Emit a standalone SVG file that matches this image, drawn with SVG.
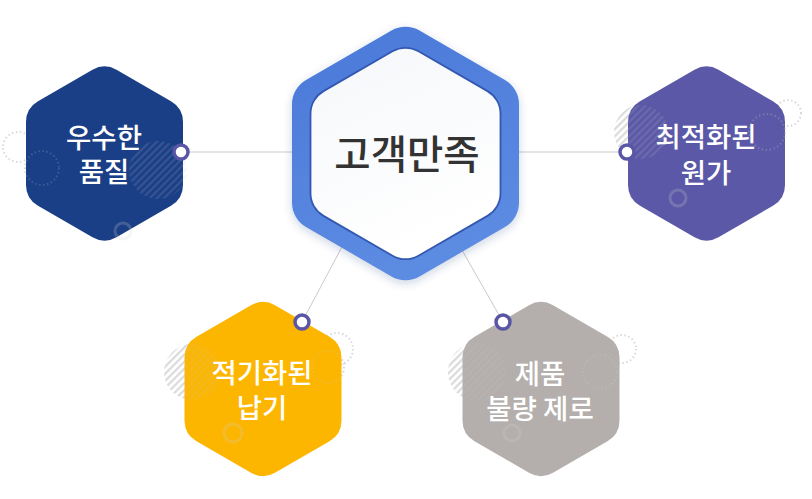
<svg xmlns="http://www.w3.org/2000/svg" xmlns:xlink="http://www.w3.org/1999/xlink" width="812" height="499" viewBox="0 0 812 499">
<style>
.lbl{font-family:"Noto Sans CJK KR","Noto Sans",sans-serif;font-size:27.5px;font-weight:500;fill:#ffffff;text-anchor:middle}
.main{font-family:"Noto Sans CJK KR","Noto Sans",sans-serif;font-size:39.5px;font-weight:500;fill:#333333;text-anchor:middle}
.conn{stroke:#c9c9c9;stroke-width:1;fill:none}
.dot{fill:#ffffff;stroke:#5a56a6;stroke-width:3.5}
.dash{fill:none;stroke:#cfcfcf;stroke-width:2;stroke-dasharray:1.5 2.5;opacity:0.8}
.ring{fill:none;stroke:#d2d2d2;stroke-width:3;opacity:0.22}
.hatchc{fill:url(#hatch);opacity:0.55}
.hatchf{fill:url(#hatch);opacity:0.16}
</style>
<defs>
<path id="hexS" d="M 12 -83.67 L 66.5 -52.23 A 24 24 0 0 1 78.5 -31.44 L 78.5 31.44 A 24 24 0 0 1 66.5 52.23 L 12 83.67 A 24 24 0 0 1 -12 83.67 L -66.5 52.23 A 24 24 0 0 1 -78.5 31.44 L -78.5 -31.44 A 24 24 0 0 1 -66.5 -52.23 L -12 -83.67 A 24 24 0 0 1 12 -83.67 Z"/>
<pattern id="hatch" width="5" height="5" patternUnits="userSpaceOnUse" patternTransform="rotate(45)">
<rect x="0" y="0" width="2.2" height="5" fill="#c4c4c4"/>
</pattern>
<linearGradient id="blueG" x1="0" y1="0" x2="0.3" y2="1">
<stop offset="0" stop-color="#4a78d8"/>
<stop offset="1" stop-color="#5c8be2"/>
</linearGradient>
<linearGradient id="whiteG" x1="0" y1="0" x2="0.4" y2="1">
<stop offset="0" stop-color="#f5f7fa"/>
<stop offset="1" stop-color="#ffffff"/>
</linearGradient>
<filter id="sh" x="-20%" y="-20%" width="140%" height="140%">
<feDropShadow dx="0" dy="3" stdDeviation="4" flood-color="#1e3c80" flood-opacity="0.22"/>
</filter>
</defs>
<rect width="812" height="499" fill="#ffffff"/>

<g id="connectors">
<line class="conn" x1="181" y1="152" x2="300" y2="152"/>
<line class="conn" x1="510" y1="152" x2="627" y2="152"/>
<line class="conn" x1="302" y1="322" x2="343" y2="245"/>
<line class="conn" x1="503" y1="322" x2="462" y2="250"/>
</g>

<g id="deco-back">
<circle class="dash" cx="18" cy="147" r="15"/>
<circle class="dash" cx="42" cy="168" r="17"/>
<circle class="dash" cx="788" cy="113" r="13"/>
<circle class="dash" cx="767" cy="132" r="18"/>
<circle class="dash" cx="337" cy="349" r="16"/>
<circle class="dash" cx="328" cy="367" r="16"/>
<circle class="dash" cx="622" cy="349" r="14"/>
<circle class="dash" cx="600" cy="372" r="17"/>
<circle class="hatchc" cx="641" cy="132" r="27"/>
<circle class="hatchc" cx="192" cy="372" r="28"/>
<circle class="hatchc" cx="477" cy="372" r="29"/>
</g>

<g id="node-center">
<path transform="translate(405.5,153.5)" filter="url(#sh)" fill="url(#blueG)" d="M 14 -122.92 L 99.5 -73.58 A 28 28 0 0 1 113.5 -49.33 L 113.5 49.33 A 28 28 0 0 1 99.5 73.58 L 14 122.92 A 28 28 0 0 1 -14 122.92 L -99.5 73.58 A 28 28 0 0 1 -113.5 49.33 L -113.5 -49.33 A 28 28 0 0 1 -99.5 -73.58 L -14 -122.92 A 28 28 0 0 1 14 -122.92 Z"/>
<path transform="translate(405.5,153.5)" fill="url(#whiteG)" stroke="#3358b0" stroke-width="1.8" d="M 13 -102.2 L 82 -62.35 A 26 26 0 0 1 95 -39.84 L 95 39.84 A 26 26 0 0 1 82 62.35 L 13 102.2 A 26 26 0 0 1 -13 102.2 L -82 62.35 A 26 26 0 0 1 -95 39.84 L -95 -39.84 A 26 26 0 0 1 -82 -62.35 L -13 -102.2 A 26 26 0 0 1 13 -102.2 Z"/>
<text class="main" x="407" y="169">고객만족</text>
</g>

<g id="node-quality">
<use xlink:href="#hexS" href="#hexS" transform="translate(104.5,153.5)" fill="#1b3f87"/>
<circle class="hatchf" cx="158" cy="170" r="29"/>
<circle class="ring" cx="123" cy="231" r="8"/>
<text class="lbl" x="104" y="148"><tspan x="104" y="148">우수한</tspan><tspan x="104" y="182">품질</tspan></text>
<circle class="dot" cx="181" cy="152" r="7"/>
</g>

<g id="node-cost">
<use xlink:href="#hexS" href="#hexS" transform="translate(706.5,153.5)" fill="#5b59a7"/>
<circle class="hatchf" cx="641" cy="132" r="27"/>
<circle class="ring" cx="678" cy="198" r="8"/>
<text class="lbl" x="706" y="147"><tspan x="706" y="147">최적화된</tspan><tspan x="706" y="183">원가</tspan></text>
<circle class="dot" cx="627" cy="152" r="7"/>
</g>

<g id="node-delivery">
<use xlink:href="#hexS" href="#hexS" transform="translate(263,389)" fill="#fdb600"/>
<circle class="hatchf" cx="192" cy="372" r="28"/>
<circle class="ring" cx="233" cy="433" r="9"/>
<text class="lbl" x="262" y="383"><tspan x="262" y="383">적기화된</tspan><tspan x="262" y="418">납기</tspan></text>
<circle class="dot" cx="302" cy="322" r="7"/>
</g>

<g id="node-defect">
<use xlink:href="#hexS" href="#hexS" transform="translate(541,389)" fill="#b4afac"/>
<circle class="hatchf" cx="477" cy="372" r="29"/>
<circle class="ring" cx="512" cy="433" r="8"/>
<text class="lbl" x="540" y="384"><tspan x="540" y="384">제품</tspan><tspan x="540" y="419">불량 제로</tspan></text>
<circle class="dot" cx="503" cy="322" r="7"/>
</g>

<g id="deco-front">
<circle class="dash" cx="42" cy="168" r="17" style="opacity:0.2"/>
<circle class="dash" cx="767" cy="132" r="18" style="opacity:0.25"/>
<circle class="dash" cx="328" cy="367" r="16" style="opacity:0.25"/>
<circle class="dash" cx="600" cy="372" r="17" style="opacity:0.25"/>
</g>
</svg>
